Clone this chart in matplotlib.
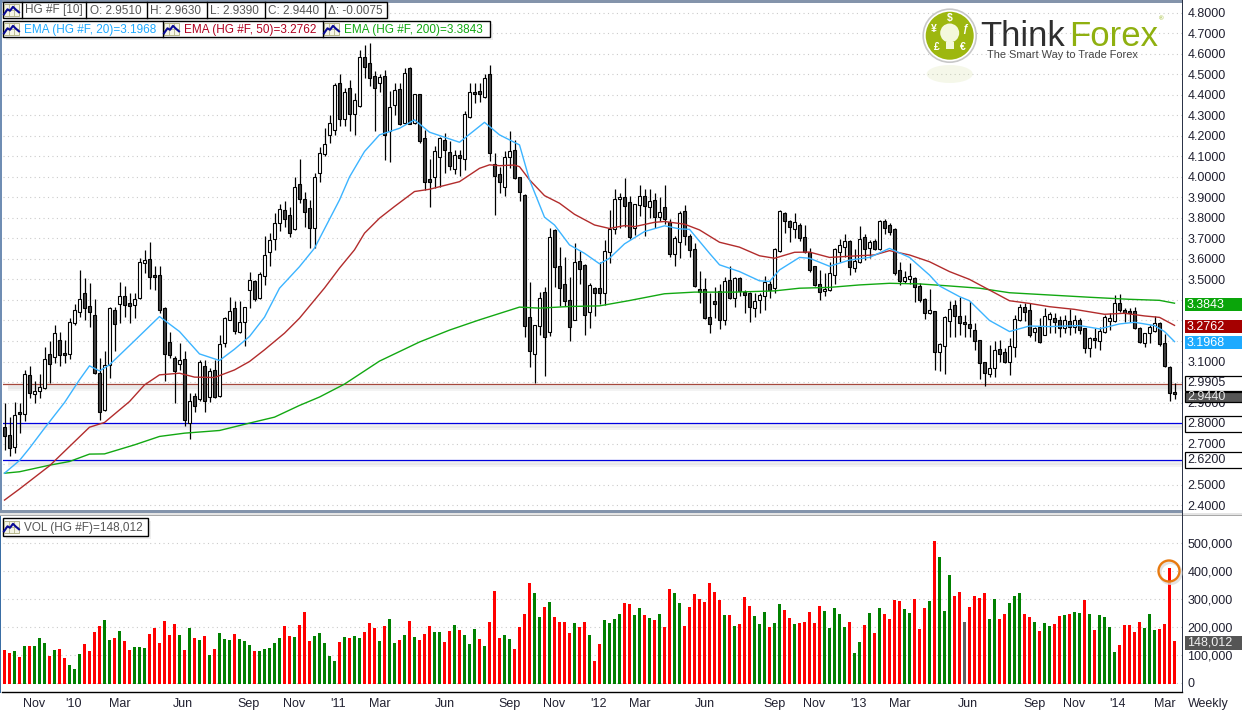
import numpy as np
import matplotlib
matplotlib.use("Agg")
import matplotlib.pyplot as plt
from matplotlib.patches import Rectangle, Circle, Ellipse

plt.rcParams['font.family'] = ['Liberation Sans', 'DejaVu Sans']

# Weekly bars, oldest first
opens = [
    2.783,2.743,2.686,2.853,2.843,3.035,2.944,2.954,2.970,3.136,
    3.124,3.204,3.141,3.139,3.290,3.343,3.433,3.371,3.325,3.043,
    2.865,3.084,3.351,3.379,3.418,3.384,3.373,3.408,3.579,3.598,
    3.520,3.520,3.360,3.194,3.116,3.087,3.111,2.800,2.931,2.915,
    3.077,2.926,3.058,2.930,3.192,3.304,3.360,3.246,3.291,3.447,
    3.494,3.407,3.515,3.631,3.696,3.777,3.837,3.814,3.744,3.963,
    3.890,3.847,3.749,4.017,4.110,4.202,4.228,4.455,4.280,4.431,
    4.304,4.347,4.582,4.553,4.489,4.459,4.489,4.223,4.351,4.426,
    4.264,4.528,4.264,4.402,4.187,3.988,4.001,4.098,4.178,4.119,
    4.040,4.105,4.085,4.291,4.411,4.416,4.390,4.499,4.061,4.014,
    3.952,4.098,4.131,3.998,3.910,3.319,3.136,3.275,3.438,3.243,
    3.741,3.564,3.477,3.399,3.303,3.590,3.571,3.340,3.457,3.457,
    3.433,3.632,3.746,3.890,3.900,3.876,3.748,3.860,3.905,3.851,
    3.886,3.803,3.851,3.778,3.623,3.681,3.832,3.709,3.647,3.452,
    3.452,3.316,3.394,3.442,3.301,3.496,3.408,3.506,3.441,3.433,
    3.360,3.399,3.418,3.477,3.457,3.639,3.822,3.783,3.744,3.767,
    3.705,3.635,3.564,3.476,3.442,3.447,3.523,3.635,3.659,3.685,
    3.557,3.583,3.705,3.653,3.685,3.648,3.783,3.763,3.744,3.544,
    3.494,3.502,3.508,3.466,3.403,3.338,3.345,3.145,3.174,3.296,
    3.375,3.322,3.291,3.281,3.252,3.203,3.096,3.041,3.070,3.160,
    3.145,3.099,3.169,3.301,3.364,3.349,3.246,3.267,3.231,3.306,
    3.310,3.301,3.262,3.296,3.268,3.301,3.262,3.164,3.213,3.198,
    3.242,3.299,3.299,3.383,3.349,3.345,3.345,3.262,3.189,3.237,
    3.250,3.286,3.189,3.075,2.951]
highs = [
    2.897,2.832,2.902,2.897,3.059,3.076,3.003,3.040,3.173,3.201,
    3.278,3.246,3.205,3.311,3.381,3.546,3.506,3.481,3.403,3.116,
    3.149,3.364,3.364,3.489,3.468,3.433,3.433,3.603,3.644,3.681,
    3.566,3.566,3.364,3.246,3.129,3.189,3.153,2.946,2.946,3.108,
    3.105,3.067,3.108,3.230,3.316,3.413,3.395,3.394,3.364,3.538,
    3.498,3.535,3.709,3.728,3.822,3.868,3.882,3.855,4.001,4.085,
    3.928,3.887,4.017,4.147,4.236,4.301,4.455,4.501,4.431,4.471,
    4.407,4.618,4.642,4.653,4.515,4.501,4.520,4.420,4.455,4.455,
    4.528,4.533,4.403,4.403,4.228,4.085,4.150,4.196,4.212,4.176,
    4.131,4.131,4.322,4.455,4.455,4.455,4.501,4.543,4.114,4.049,
    4.127,4.223,4.179,4.001,3.915,3.486,3.279,3.438,3.465,3.749,
    3.746,3.660,3.611,3.514,3.676,3.636,3.576,3.481,3.465,3.587,
    3.692,3.838,3.939,3.920,3.993,3.908,3.868,3.960,3.939,3.939,
    3.920,3.903,3.960,3.793,3.709,3.835,3.861,3.722,3.676,3.541,
    3.506,3.433,3.465,3.477,3.511,3.563,3.514,3.514,3.446,3.439,
    3.433,3.433,3.517,3.490,3.652,3.838,3.826,3.790,3.822,3.777,
    3.765,3.651,3.565,3.546,3.530,3.586,3.653,3.695,3.721,3.692,
    3.646,3.760,3.721,3.692,3.695,3.789,3.792,3.776,3.749,3.586,
    3.543,3.578,3.513,3.481,3.408,3.452,3.348,3.189,3.322,3.396,
    3.400,3.413,3.327,3.396,3.286,3.205,3.099,3.181,3.202,3.205,
    3.164,3.213,3.327,3.380,3.387,3.383,3.270,3.310,3.359,3.343,
    3.335,3.322,3.327,3.354,3.327,3.310,3.265,3.221,3.262,3.270,
    3.327,3.335,3.424,3.427,3.359,3.359,3.364,3.270,3.241,3.276,
    3.322,3.294,3.234,3.078,2.994]
lows = [
    2.670,2.641,2.654,2.754,2.808,2.921,2.897,2.921,2.965,2.994,
    3.095,3.080,3.092,3.111,3.278,3.319,3.303,3.267,3.038,2.813,
    2.860,3.019,3.149,3.290,3.316,3.290,3.311,3.403,3.533,3.452,
    3.449,3.335,3.007,3.116,2.900,3.059,2.787,2.722,2.856,2.910,
    2.856,2.905,2.921,2.925,3.170,3.300,3.235,3.241,3.176,3.360,
    3.394,3.405,3.473,3.566,3.641,3.738,3.754,3.705,3.741,3.874,
    3.757,3.652,3.652,3.972,4.101,4.163,4.204,4.248,4.248,4.225,
    4.204,4.338,4.480,4.442,4.225,4.415,4.082,4.074,4.301,4.252,
    4.257,4.255,4.257,4.166,3.933,3.855,3.944,3.949,4.017,4.033,
    4.014,4.006,4.033,4.285,4.358,4.366,4.385,4.079,3.814,3.923,
    3.908,4.041,3.991,3.884,3.218,3.071,2.995,3.230,3.030,3.222,
    3.465,3.368,3.368,3.202,3.300,3.477,3.230,3.262,3.324,3.381,
    3.376,3.579,3.722,3.752,3.757,3.696,3.715,3.809,3.712,3.801,
    3.752,3.782,3.770,3.608,3.567,3.603,3.666,3.611,3.462,3.387,
    3.305,3.238,3.311,3.256,3.279,3.404,3.365,3.417,3.335,3.292,
    3.316,3.335,3.352,3.408,3.433,3.631,3.725,3.681,3.700,3.689,
    3.630,3.538,3.470,3.400,3.419,3.444,3.478,3.586,3.607,3.521,
    3.538,3.578,3.594,3.603,3.643,3.643,3.719,3.716,3.521,3.471,
    3.481,3.478,3.388,3.392,3.306,3.332,3.059,3.056,3.039,3.221,
    3.221,3.229,3.221,3.221,3.156,3.017,2.983,3.026,3.026,3.099,
    3.095,3.035,3.124,3.296,3.299,3.221,3.200,3.192,3.228,3.237,
    3.237,3.218,3.237,3.229,3.237,3.234,3.140,3.124,3.164,3.156,
    3.237,3.254,3.294,3.343,3.294,3.294,3.257,3.189,3.172,3.189,
    3.246,3.177,3.075,2.910,2.918]
closes = [
    2.735,2.678,2.840,2.843,3.038,2.949,2.956,2.975,3.111,3.090,
    3.238,3.131,3.134,3.291,3.351,3.403,3.363,3.343,3.046,2.852,
    3.084,3.360,3.282,3.418,3.373,3.368,3.403,3.584,3.593,3.511,
    3.511,3.350,3.139,3.131,3.056,3.106,2.814,2.907,2.882,3.097,
    2.910,3.053,2.926,3.184,3.311,3.345,3.248,3.291,3.364,3.499,
    3.403,3.525,3.618,3.691,3.774,3.842,3.793,3.728,3.949,3.890,
    3.830,3.749,3.998,4.114,4.158,4.261,4.446,4.280,4.411,4.304,
    4.374,4.582,4.533,4.480,4.431,4.484,4.204,4.338,4.421,4.256,
    4.504,4.257,4.402,4.174,3.973,3.976,4.124,4.187,4.129,4.050,
    4.105,4.093,4.304,4.411,4.405,4.405,4.480,4.116,4.006,3.976,
    4.098,4.126,3.996,3.928,3.275,3.149,3.279,3.408,3.218,3.705,
    3.559,3.460,3.397,3.266,3.584,3.553,3.326,3.472,3.433,3.433,
    3.637,3.744,3.890,3.900,3.856,3.705,3.868,3.905,3.856,3.881,
    3.803,3.827,3.793,3.623,3.700,3.822,3.713,3.642,3.467,3.438,
    3.311,3.282,3.379,3.301,3.494,3.408,3.506,3.442,3.423,3.365,
    3.394,3.423,3.486,3.449,3.647,3.832,3.782,3.754,3.778,3.700,
    3.633,3.544,3.473,3.440,3.452,3.530,3.650,3.666,3.685,3.562,
    3.588,3.695,3.650,3.680,3.646,3.783,3.752,3.732,3.530,3.494,
    3.510,3.518,3.461,3.398,3.338,3.349,3.145,3.184,3.317,3.354,
    3.320,3.289,3.284,3.265,3.198,3.091,3.046,3.067,3.155,3.135,
    3.098,3.174,3.306,3.364,3.343,3.228,3.262,3.197,3.320,3.330,
    3.294,3.265,3.301,3.267,3.301,3.252,3.168,3.213,3.203,3.247,
    3.315,3.310,3.383,3.349,3.336,3.335,3.265,3.194,3.237,3.267,
    3.289,3.184,3.077,2.945,2.944]

# Volume in thousands, r = red, g = green, k = grey
volumes_k = [
    117,107,114,92,132,132,132,160,142,96,
    117,121,89,63,49,103,139,114,182,203,
    225,153,160,186,150,117,128,128,124,175,
    196,142,221,171,211,171,117,196,160,153,
    168,99,121,178,157,153,175,157,150,135,
    114,114,121,124,142,160,203,168,164,207,
    254,150,168,178,142,96,78,146,164,160,
    168,160,182,214,196,150,203,229,142,153,
    171,221,164,153,175,203,182,182,146,186,
    207,189,171,139,193,157,132,218,329,160,
    171,157,121,200,247,358,322,236,272,290,
    236,218,218,178,214,200,218,171,78,139,
    225,214,229,247,286,282,243,268,243,232,
    225,247,200,336,322,286,203,272,318,300,
    290,358,326,297,243,243,203,211,308,275,
    239,211,254,200,214,282,261,232,211,214,
    218,254,214,275,257,196,268,247,200,218,
    107,146,207,250,178,268,247,229,297,293,
    265,250,300,193,268,293,509,451,257,387,
    311,326,218,272,311,304,322,229,300,229,
    247,286,311,322,247,236,218,186,214,203,
    211,239,243,247,254,250,297,247,189,243,
    236,200,110,135,207,207,182,218,196,247,
    189,193,211,412,148.012]
vol_colors = "".join([
    "rrgrgrgggr", "grrgggrrrr", "ggrgrrgggr", "rrrrrgrgrg", "rgrgggrggg",
    "rgggggrrgr", "rrgggggrgr", "ggrrrgrggr", "grgrrrggrr", "grgggrgrrr",
    "ggrrrrggrg", "rrrrgrrgrr", "ggggrrggrg", "rgrrggrrrr", "rrrrgrgrrr",
    "gggrggrrgr", "rrrrgggggr", "ggrgrgrrrr", "ggrrrgrggg", "rrkrrrrggr",
    "rgggrrgrgg", "rrgrggrgrg", "gggrrrrrgg", "grrrr"])

# Exponential averages, read at the listed bars
ema20_bars = [0,3,5,8,12,15,17,19,21,26,31,35,39,43,46,49,52,55,59,62,67,69,72,75,79,82,85,91,96,99,
              103,105,108,110,113,116,119,121,124,128,132,135,137,141,143,147,151,153,155,159,161,165,
              169,173,177,181,185,187,191,193,197,201,205,209,215,219,223,226,230,232,234]
ema20_vals = [2.556,2.618,2.678,2.775,2.900,3.011,3.079,3.054,3.084,3.201,3.319,3.246,3.137,3.105,3.160,
              3.222,3.316,3.457,3.562,3.652,3.887,3.999,4.123,4.204,4.236,4.277,4.217,4.168,4.265,4.204,
              4.155,3.985,3.803,3.765,3.668,3.627,3.576,3.603,3.673,3.733,3.761,3.746,3.744,3.627,3.571,
              3.538,3.493,3.490,3.546,3.607,3.603,3.564,3.594,3.607,3.651,3.607,3.521,3.468,3.416,3.396,
              3.300,3.246,3.273,3.270,3.275,3.259,3.283,3.291,3.275,3.246,3.197]
ema50_bars = [0,3,9,13,17,20,25,28,31,35,38,42,46,49,52,56,59,64,67,70,72,75,78,82,85,91,95,97,99,
              102,103,105,108,111,114,118,121,124,126,130,132,136,139,143,147,151,154,158,161,165,
              170,174,177,181,185,189,193,197,201,205,209,214,220,224,228,231,234]
ema50_vals = [2.425,2.479,2.592,2.686,2.780,2.803,2.905,2.986,3.035,3.043,3.024,3.022,3.059,3.100,3.157,
              3.238,3.311,3.458,3.555,3.644,3.725,3.798,3.855,3.928,3.939,3.976,4.041,4.058,4.054,
              4.057,4.049,3.985,3.908,3.871,3.817,3.765,3.748,3.762,3.757,3.778,3.782,3.769,3.741,
              3.681,3.657,3.615,3.603,3.632,3.633,3.607,3.614,3.619,3.640,3.619,3.586,3.538,3.500,
              3.448,3.396,3.383,3.367,3.354,3.330,3.335,3.322,3.315,3.276]
ema200_bars = [0,3,9,13,17,20,26,31,36,43,49,54,59,63,68,75,83,89,95,103,107,113,119,125,132,138,146,154,
               159,165,171,177,183,189,195,201,209,217,225,231,234]
ema200_vals = [2.556,2.563,2.595,2.613,2.649,2.650,2.694,2.735,2.751,2.764,2.800,2.829,2.886,2.927,2.990,
               3.102,3.195,3.253,3.303,3.365,3.360,3.368,3.371,3.397,3.430,3.438,3.438,3.444,3.457,3.461,
               3.473,3.481,3.478,3.468,3.457,3.435,3.424,3.413,3.403,3.398,3.384]

price_ticks = [2.4 + 0.1*k for k in range(25)]
hidden_ticks = ['2.6000', '2.8000', '3.0000', '3.2000', '3.3000', '3.4000']  # sit under the value boxes
vol_ticks = [0, 100000, 200000, 300000, 400000, 500000]
hlines = [(2.9905, '#a5483c'), (2.8, '#0000e0'), (2.62, '#0000e0')]
xtick_bars = [6,13.7,23,35.7,48.9,58,66.7,75,88,101,110,118.8,127,140,154,162,170.7,179,192.7,206,214,222.7,232]
xtick_labels = ['Nov',"'10",'Mar','Jun','Sep','Nov',"'11",'Mar','Jun','Sep','Nov',"'12",'Mar','Jun','Sep','Nov',
                "'13",'Mar','Jun','Sep','Nov',"'14",'Mar']

W, H = 1242, 710
fig = plt.figure(figsize=(W/100, H/100), dpi=100, facecolor='white')

def panel(x0, y0, x1, y1):
    return fig.add_axes([x0/W, 1-y1/H, (x1-x0)/W, (y1-y0)/H])

ax = panel(3, 3, 1182, 511)
axv = panel(3, 516, 1182, 692)

# one bar = 5 px
x = np.arange(len(opens))
for a in (ax, axv):
    a.set_xlim(-0.3, 235.5)
    for s in a.spines.values():
        s.set_visible(False)

ax.set_ylim(4.8 - 498.5/205.3, 4.8 + 9.5/205.3)
axv.set_ylim(-(692-682.7)/27.87*100000, (682.7-516)/27.87*100000)

txt = '#202030'
price_labels = ['%.4f' % t for t in price_ticks]
ax.set_yticks(price_ticks)
ax.set_yticklabels(['' if s in hidden_ticks else s for s in price_labels])
axv.set_yticks(vol_ticks)
axv.set_yticklabels(['{:,}'.format(t) for t in vol_ticks])
for a in (ax, axv):
    a.yaxis.tick_right()
    a.tick_params(axis='y', length=0, pad=4, labelsize=9, labelcolor=txt)
    a.grid(axis='y', color='#cbcbcb', lw=0.8, ls=(0, (1, 3)))
    a.set_axisbelow(True)
ax.set_xticks([])
axv.set_xticks(xtick_bars)
axv.set_xticklabels(xtick_labels)
axv.tick_params(axis='x', length=0, pad=4, labelsize=9, labelcolor=txt)

# shadow under horizontal lines, then the lines
for val, col in hlines:
    for d0, d1, c in [(0.004, 0.012, '#f0f0f0'), (0.012, 0.026, '#e8e8e8'), (0.026, 0.036, '#f3f3f3')]:
        ax.axhspan(val-d1, val-d0, xmin=0.004, color=c, lw=0, zorder=1)
    ax.axhline(val, color=col, lw=0.9, zorder=1.5)

# candles
opens_a, closes_a = np.array(opens), np.array(closes)
down = closes_a < opens_a
ax.vlines(x, lows, highs, color='black', lw=0.9, zorder=2)
ax.bar(x, np.abs(closes_a-opens_a), bottom=np.minimum(opens_a, closes_a), width=0.6,
       color=np.where(down, '#404040', 'white'), edgecolor='black', lw=0.8, zorder=3)

ax.plot(ema200_bars, ema200_vals, color='#12a812', lw=1.0, zorder=4)
ax.plot(ema50_bars, ema50_vals, color='#b22c2c', lw=1.0, zorder=4)
ax.plot(ema20_bars, ema20_vals, color='#3cb4ff', lw=1.0, zorder=4)

# volume
bar_cols = [{'r': '#ff0000', 'g': '#008000', 'k': '#606060'}[c] for c in vol_colors]
axv.bar(x, np.array(volumes_k)*1000 + 5000, bottom=-5000, width=0.6, color=bar_cols, lw=0, zorder=3)

# value boxes on the right scale
def box(a, val, label, fc, ec, tc, half):
    trans = a.get_yaxis_transform()
    a.add_patch(Rectangle((1.0025, val-half), 0.052, 2*half, transform=trans, fc=fc, ec=ec, lw=0.9,
                          clip_on=False, zorder=10))
    a.text(1.0042, val, label, transform=trans, color=tc, fontsize=9, va='center', ha='left',
           clip_on=False, zorder=11)

box(ax, 3.377, '3.3843', '#0aa50a', 'none', 'white', 0.032)
box(ax, 3.270, '3.2762', '#a50000', 'none', 'white', 0.032)
box(ax, 3.192, '3.1968', '#1eaaff', 'none', 'white', 0.032)
box(ax, 2.994, '2.9905', 'white', 'black', txt, 0.036)
box(ax, 2.795, '2.8000', 'white', 'black', txt, 0.038)
box(ax, 2.62, '2.6200', 'white', 'black', txt, 0.038)
box(ax, 2.926, '2.9440', '#555555', 'black', '#e8e8e8', 0.024)
box(axv, 143000, '148,012', '#555555', 'none', '#f0f0f0', 25000)

# frame, legends and logo drawn on a pixel overlay
deco = fig.add_axes([0, 0, 1, 1], zorder=20)
deco.set_xlim(0, W)
deco.set_ylim(H, 0)
deco.axis('off')
deco.patch.set_alpha(0)

deco.add_patch(Rectangle((0, 0), 1183, 2.5, fc='#8494ab', lw=0))
deco.add_patch(Rectangle((0, 0), 2.2, 512, fc='#6f8db3', lw=0))
deco.add_patch(Rectangle((0, 510), 1183, 2.5, fc='#8494ab', lw=0))
deco.add_patch(Rectangle((0, 512.5), W, 3, fc='#e4e4e4', lw=0))
deco.add_patch(Rectangle((0, 515), W, 1.3, fc='#a8a8a8', lw=0))
deco.add_patch(Rectangle((0, 516), 1.2, 177, fc='#3a6ea5', lw=0))
deco.add_patch(Rectangle((1181.6, 0), 1.6, 692.5, fc='#2c3448', lw=0))
deco.plot([1.5, 1182], [692, 692], color='black', lw=1)
deco.text(1188, 703.5, 'Weekly', fontsize=9, color=txt, va='center', ha='left')

def icon(px, py):
    deco.add_patch(Rectangle((px, py), 15, 11.5, fc='#f5f5e6', ec='#b5b58c', lw=0.7))
    deco.plot([px+5, px+5], [py, py+11.5], color='#b5b58c', lw=0.6)
    deco.plot([px+10, px+10], [py, py+11.5], color='#b5b58c', lw=0.6)
    deco.plot([px, px+15], [py+5.7, py+5.7], color='#b5b58c', lw=0.6)
    deco.plot([px, px+3.5, px+6, px+9, px+11.5, px+15], [py+10, py+5, py+6.5, py+2.5, py+5, py+8],
              color='#0a0a96', lw=1.5)

def legend_row(y0, y1, right, seps):
    deco.add_patch(Rectangle((6, y0+3), right-3, y1-y0, fc='#eeeeee', lw=0))
    deco.add_patch(Rectangle((2.7, y0), right-2.7, y1-y0, fc='white', ec='black', lw=1))
    for s in seps:
        deco.plot([s, s], [y0, y1], color='black', lw=1)

legend_row(1.7, 18.3, 387, [21.5, 86, 146.7, 206.7, 264.5, 324.5])
icon(4, 4.3)
for tx, s in [(25, 'HG #F [10]'), (90.5, 'O: 2.9510'), (150, 'H: 2.9630'), (210, 'L: 2.9390'),
              (268, 'C: 2.9440'), (328, 'Δ: -0.0075')]:
    deco.text(tx, 10.5, s, fontsize=8.5, color='#555555', va='center', ha='left')

legend_row(20.7, 37.3, 490, [162.7, 322.7])
for ix, tx, s, c in [(4, 23.5, 'EMA (HG #F, 20)=3.1968', '#1eaaff'),
                     (164, 183.5, 'EMA (HG #F, 50)=3.2762', '#b00020'),
                     (324, 343.5, 'EMA (HG #F, 200)=3.3843', '#12a812')]:
    icon(ix, 23.3)
    deco.text(tx, 29.5, s, fontsize=8.5, color=c, va='center', ha='left')

legend_row(518.3, 535.7, 148, [])
icon(4, 521.3)
deco.text(23.5, 527.5, 'VOL (HG #F)=148,012', fontsize=8.5, color='#555555', va='center', ha='left')

# circle around the volume spike
deco.add_patch(Circle((1170.5, 573), 10.5, fc='none', ec='#dcdcdc', lw=2.2, alpha=0.8))
deco.add_patch(Circle((1169, 571), 10.5, fc='none', ec='#e87a10', lw=1.7))

# logo
deco.add_patch(Ellipse((949.7, 74), 46, 18, fc='#c8d88a', alpha=0.18, lw=0))
deco.add_patch(Circle((949.7, 35.7), 26.5, fc='white', ec='#c8c8c8', lw=1.2))
deco.add_patch(Circle((949.7, 35.7), 24, fc='#9db70f', lw=0))
deco.add_patch(Circle((949.7, 33), 9.5, fc='#f4f8dc', lw=0))
deco.add_patch(Rectangle((945.5, 42), 8.5, 7, fc='#f4f8dc', lw=0))
for sx, sy, s in [(949.7, 18.5, '$'), (933.5, 29, '¥'), (965.5, 29, 'ƒ'), (937, 47, '£'), (963, 47, '€')]:
    deco.text(sx, sy, s, fontsize=7.5, color='white', fontweight='bold', ha='center', va='center')
deco.text(980, 46, 'Think', fontsize=25, color='#2f2f2f', va='baseline', ha='left')
deco.text(1069.5, 46, 'Forex', fontsize=25, color='#8fb010', va='baseline', ha='left')
deco.text(1158.5, 19, '®', fontsize=4.5, color='#8fb010', va='center', ha='left')
deco.text(987, 55.5, 'The Smart Way to Trade Forex', fontsize=7.95, color='#444444', va='center', ha='left')

fig.savefig('out.png', dpi=100)
